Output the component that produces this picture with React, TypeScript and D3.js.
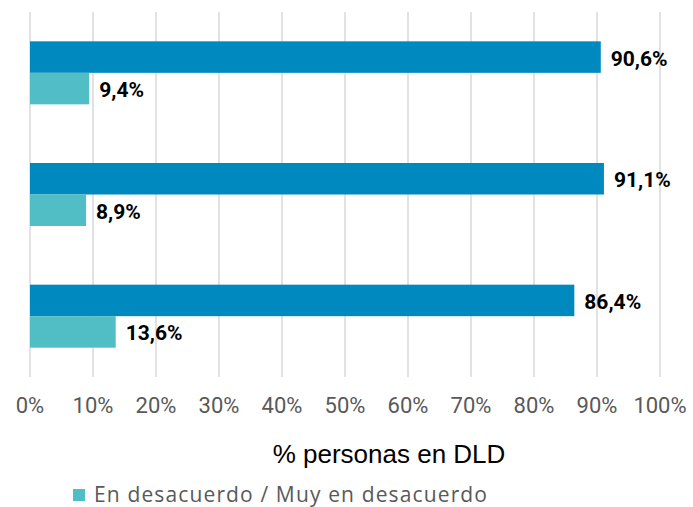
import React from "react";
import * as d3 from "d3";

const categories = ["A", "B", "C"];
const seriesAgree = [90.6, 91.1, 86.4];
const seriesDisagree = [9.4, 8.9, 13.6];
const tickValues = [0, 10, 20, 30, 40, 50, 60, 70, 80, 90, 100];
const legendLabel = "En desacuerdo / Muy en desacuerdo";
const axisTitle = "% personas en DLD";

const W = 693;
const H = 507;
const COLORS = { agree: "#0089BE", disagree: "#50BEC4" };
const FONT = "Roboto, 'Noto Sans', sans-serif";
const LEGEND_FONT = "'Open Sans', Roboto, sans-serif";
const TITLE_FONT = "'Liberation Sans', Arial, sans-serif";

const fmt = (v: number) => v.toFixed(1).replace(".", ",") + "%";

export default function App() {
  const x = d3.scaleLinear().domain([0, 100]).range([30, 660]);
  const y = d3.scaleBand<string>().domain(categories).range([12, 377]).paddingInner(0).paddingOuter(0);
  const barH = 31.5;
  const band = y.bandwidth();

  return (
    <svg width={W} height={H} style={{ position: "absolute", left: 0, top: 0, background: "#fff" }}>
      {tickValues.map((t) => (
        <line key={t} x1={x(t)} x2={x(t)} y1={12} y2={377} stroke="#D9D9D9" strokeWidth={1.5} />
      ))}
      {categories.map((c, i) => {
        const y0 = (y(c) as number) + band / 2 - barH;
        return (
          <g key={c}>
            <rect x={x(0)} y={y0} width={x(seriesAgree[i]) - x(0)} height={barH} fill={COLORS.agree} />
            <rect x={x(0)} y={y0 + barH} width={x(seriesDisagree[i]) - x(0)} height={barH} fill={COLORS.disagree} />
            <text x={x(seriesAgree[i]) + 10} y={y0 + barH / 2 + 8.5} fontFamily={FONT} fontWeight={700} fontSize={21} fill="#000">
              {fmt(seriesAgree[i])}
            </text>
            <text x={x(seriesDisagree[i]) + 10} y={y0 + barH * 1.5 + 8.5} fontFamily={FONT} fontWeight={700} fontSize={21} fill="#000">
              {fmt(seriesDisagree[i])}
            </text>
          </g>
        );
      })}
      {tickValues.map((t) => (
        <text key={"l" + t} x={x(t)} y={413} textAnchor="middle" fontFamily={FONT} fontSize={22} fill="#595959">
          {t + "%"}
        </text>
      ))}
      <text x={389} y={463} textAnchor="middle" fontFamily={TITLE_FONT} fontSize={26} fill="#000">
        {axisTitle}
      </text>
      <rect x={73} y={489} width={12} height={12} fill={COLORS.disagree} />
      <text x={94} y={502} fontFamily={LEGEND_FONT} fontSize={21} fill="#595959" textLength={393} lengthAdjust="spacing">
        {legendLabel}
      </text>
    </svg>
  );
}
